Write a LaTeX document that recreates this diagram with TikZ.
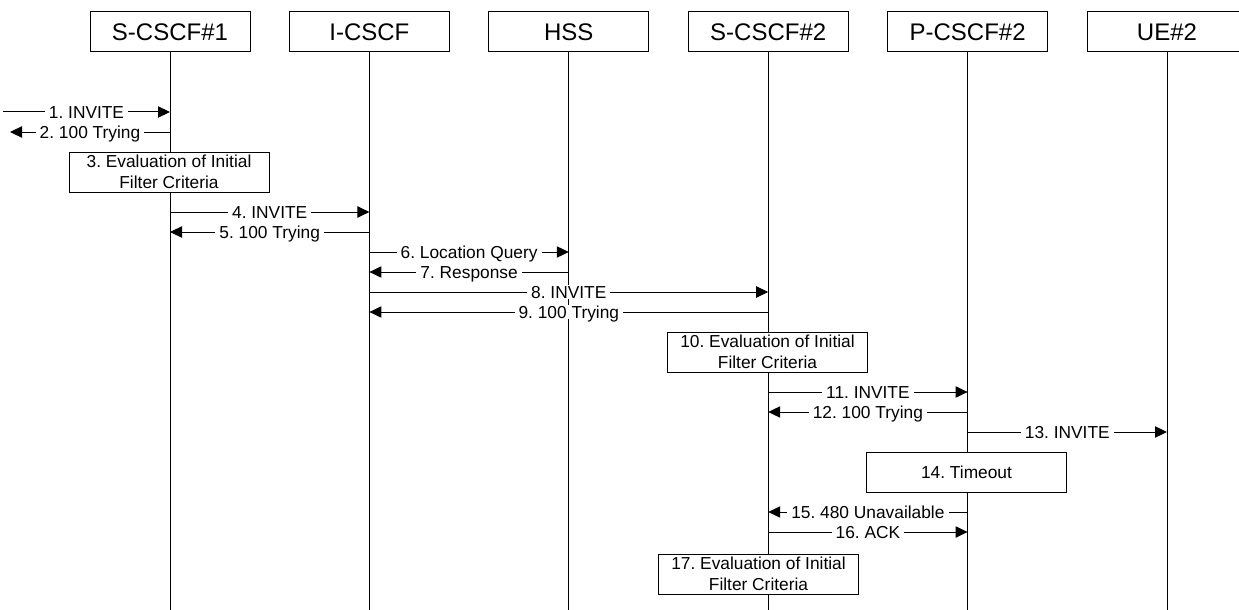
\documentclass[tikz,border=0pt]{standalone}
\usepackage{fontspec}
\setmainfont{Liberation Sans}
\frenchspacing
\usetikzlibrary{arrows.meta,positioning}

\begin{document}
\begin{tikzpicture}[
  x=0.75pt, y=-0.75pt, >={Triangle[length=9pt,width=8.5pt]}, node distance=28.8pt,
  ent/.style={draw, line width=0.75pt, fill=white, minimum width=120pt, minimum height=30pt, inner sep=0pt, font=\fontsize{18}{20}\selectfont},
  proc/.style={draw, line width=0.75pt, fill=white, minimum width=150pt, minimum height=30pt, align=center, inner sep=1pt, font=\fontsize{13}{16}\selectfont},
  life/.style={line width=0.75pt},
  msg/.style={->, line width=0.75pt},
  lbl/.style={fill=white, inner xsep=3pt, inner ysep=0.6pt, text height=9.3pt, text depth=0pt, font=\fontsize{13}{15}\selectfont},
]
  \clip (0,0) rectangle (1239,610);
  % entities
  \node[ent] (s1) at (170,32) {S-CSCF\#1};
  \node[ent, right=of s1]  (ic)  {I-CSCF};
  \node[ent, right=of ic]  (hss) {HSS};
  \node[ent, right=of hss] (s2)  {S-CSCF\#2};
  \node[ent, right=of s2]  (p2)  {P-CSCF\#2};
  \node[ent, right=of p2]  (ue)  {UE\#2};
  \foreach \n in {s1,ic,hss,s2,p2,ue}
    \draw[life] (\n.south) -- (\n |- 0,610);
  % messages
  \coordinate (in1) at (3,112);
  \coordinate (out2) at (10,132);
  \draw[msg] (in1) -- node[lbl]{1. INVITE} (s1 |- in1);
  \draw[msg] (s1 |- out2) -- node[lbl]{2. 100 Trying} (out2);
  \node[proc] (ev1) at (169,172) {3. Evaluation of Initial\\Filter Criteria};
  \draw[msg] (s1 |- 0,212) -- node[lbl]{4. INVITE} (ic |- 0,212);
  \draw[msg] (ic |- 0,232) -- node[lbl]{5. 100 Trying} (s1 |- 0,232);
  \draw[msg] (ic |- 0,252) -- node[lbl]{6. Location Query} (hss |- 0,252);
  \draw[msg] (hss |- 0,272) -- node[lbl]{7. Response} (ic |- 0,272);
  \draw[msg] (ic |- 0,292) -- node[lbl]{8. INVITE} (s2 |- 0,292);
  \draw[msg] (s2 |- 0,312) -- node[lbl]{9. 100 Trying} (ic |- 0,312);
  \node[proc] (ev2) at (767.5,352) {10. Evaluation of Initial\\Filter Criteria};
  \draw[msg] (s2 |- 0,392) -- node[lbl]{11. INVITE} (p2 |- 0,392);
  \draw[msg] (p2 |- 0,412) -- node[lbl]{12. 100 Trying} (s2 |- 0,412);
  \draw[msg] (p2 |- 0,432) -- node[lbl]{13. INVITE} (ue |- 0,432);
  \node[proc] (tmo) at (966.5,472) {14. Timeout};
  \draw[msg] (p2 |- 0,512) -- node[lbl]{15. 480 Unavailable} (s2 |- 0,512);
  \draw[msg] (s2 |- 0,532) -- node[lbl]{16. ACK} (p2 |- 0,532);
  \node[proc] (ev3) at (758.5,574) {17. Evaluation of Initial\\Filter Criteria};
\end{tikzpicture}
\end{document}
